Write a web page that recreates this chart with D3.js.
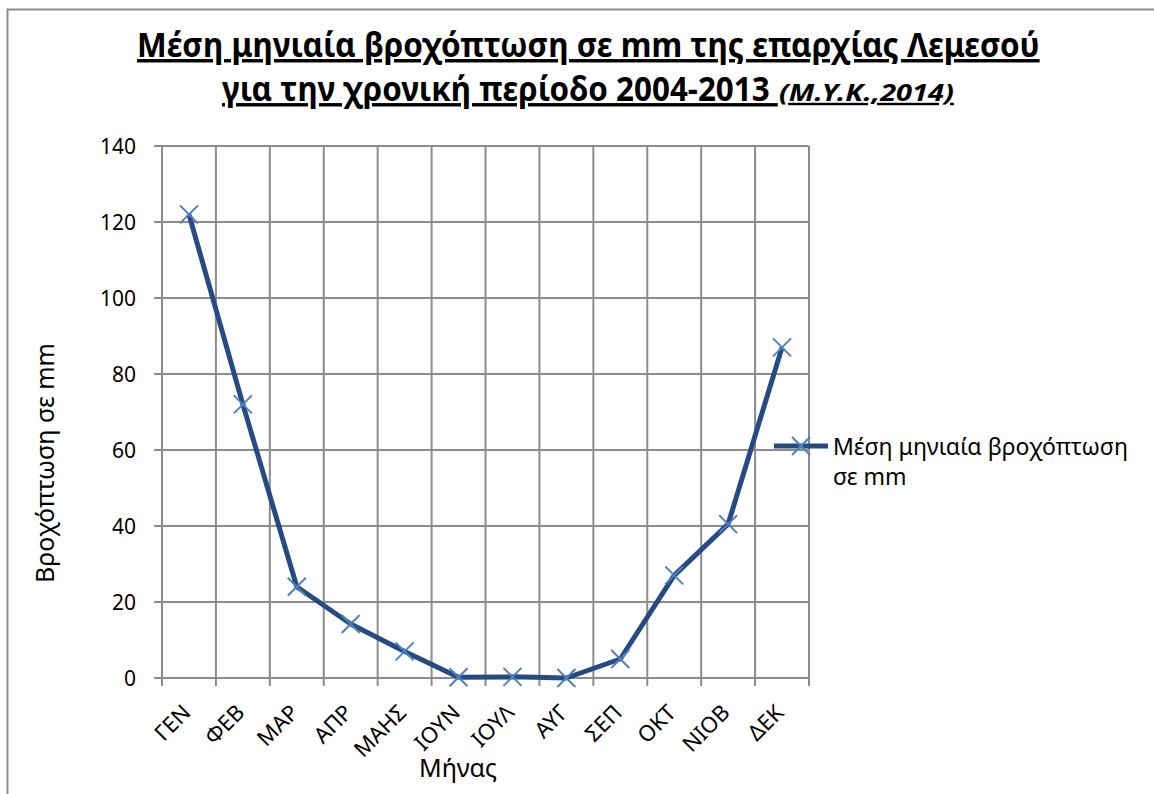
<!DOCTYPE html>
<html>
<head>
<meta charset="utf-8">
<script src="https://cdn.jsdelivr.net/npm/d3@7"></script>
<style>
  body { margin: 0; background: #fff; }
  text { font-family: "Noto Sans", "Open Sans", sans-serif; fill: #000; }
</style>
</head>
<body>
<script>
//chart data
var months = ["ΓΕΝ", "ΦΕΒ", "ΜΑΡ", "ΑΠΡ", "ΜΑΗΣ", "ΙΟΥΝ", "ΙΟΥΛ", "ΑΥΓ", "ΣΕΠ", "ΟΚΤ", "ΝΙΟΒ", "ΔΕΚ"];
var rainfall = [122, 72, 24, 14.2, 7, 0.2, 0.3, 0, 5, 27, 40.5, 87];
var yTicks = [0, 20, 40, 60, 80, 100, 120, 140];
var seriesName = ["Μέση μηνιαία βροχόπτωση", "σε mm"];
var titleLines = ["Μέση μηνιαία βροχόπτωση σε mm της επαρχίας Λεμεσού", "για την χρονική περίοδο 2004-2013\u00a0", "(Μ.Υ.Κ.,2014)"];

window.onload = function(){
    var w = 1154, h = 794;
    var left = 162, right = 809, top = 146, bottom = 678;

    var svg = d3.select("body").append("svg")
        .attr("width", w)
        .attr("height", h);

    //outer chart border (only top and left visible)
    svg.append("path")
        .attr("d", "M7.5," + (h + 5) + "V9.5H" + (w + 5))
        .style("fill", "none")
        .style("stroke", "#8c8c8c")
        .style("stroke-width", 2);

    //squeeze a title piece horizontally so it spans the given width
    function fitText(str, x, y, width, size, italic){
        var t = svg.append("text")
            .style("font-weight", "bold")
            .style("font-size", size + "px")
            .style("font-style", italic ? "italic" : "normal")
            .style("text-decoration", "underline")
            .text(str);
        var k = width / t.node().getComputedTextLength();
        t.attr("transform", "translate(" + x + "," + y + ") scale(" + k + ",1)");
        return t;
    }

    fitText(titleLines[0], 137, 57, 903, 34, false);
    fitText(titleLines[1], 222, 101, 556, 34, false);
    fitText(titleLines[2], 779, 101, 175, 24, true);

    //scales
    var x = d3.scaleBand()
        .domain(months)
        .range([left, right]);

    var y = d3.scaleLinear()
        .domain([0, 140])
        .range([bottom, top]);

    //horizontal gridlines
    svg.append("g")
        .selectAll("line")
        .data(yTicks)
        .enter()
        .append("line")
        .attr("x1", left - 8)
        .attr("x2", right)
        .attr("y1", function(d){ return y(d); })
        .attr("y2", function(d){ return y(d); })
        .style("stroke", "#8c8c8c")
        .style("stroke-width", 2);

    //vertical gridlines at category boundaries
    var bounds = months.map(function(d){ return x(d); }).concat([right]);
    svg.append("g")
        .selectAll("line")
        .data(bounds)
        .enter()
        .append("line")
        .attr("x1", function(d){ return d; })
        .attr("x2", function(d){ return d; })
        .attr("y1", top)
        .attr("y2", bottom + 8)
        .style("stroke", "#8c8c8c")
        .style("stroke-width", 2);

    //y tick labels
    svg.append("g")
        .selectAll("text")
        .data(yTicks)
        .enter()
        .append("text")
        .attr("x", 136)
        .attr("y", function(d){ return y(d) + 8; })
        .attr("text-anchor", "end")
        .style("font-size", "21px")
        .text(function(d){ return d; });

    //x tick labels, rotated
    svg.append("g")
        .selectAll("text")
        .data(months)
        .enter()
        .append("text")
        .attr("transform", function(d){
            return "translate(" + (x(d) + x.bandwidth() / 2 + 3) + "," + (bottom + 36) + ") rotate(-45)";
        })
        .attr("text-anchor", "end")
        .style("font-size", "22px")
        .text(function(d){ return d; });

    //axis titles
    svg.append("text")
        .attr("transform", "translate(54,463) rotate(-90)")
        .attr("text-anchor", "middle")
        .style("font-size", "25px")
        .text("Βροχόπτωση σε mm");

    svg.append("text")
        .attr("x", 458)
        .attr("y", 777)
        .attr("text-anchor", "middle")
        .style("font-size", "25px")
        .text("Μήνας");

    //series line
    var line = d3.line()
        .x(function(d, i){ return x(months[i]) + x.bandwidth() / 2; })
        .y(function(d){ return y(d); });

    svg.append("path")
        .datum(rainfall)
        .attr("d", line)
        .style("fill", "none")
        .style("stroke", "#254b82")
        .style("stroke-width", 5)
        .style("stroke-linejoin", "round");

    //x markers
    var s = 9;
    svg.append("g")
        .selectAll("path")
        .data(rainfall)
        .enter()
        .append("path")
        .attr("d", function(d, i){
            var cx = x(months[i]) + x.bandwidth() / 2, cy = y(d);
            return "M" + (cx - s) + "," + (cy - s) + "L" + (cx + s) + "," + (cy + s) +
                   "M" + (cx - s) + "," + (cy + s) + "L" + (cx + s) + "," + (cy - s);
        })
        .style("stroke", "#4f81bd")
        .style("stroke-width", 2);

    //legend
    var ly = 446;
    svg.append("line")
        .attr("x1", 774).attr("x2", 828)
        .attr("y1", ly).attr("y2", ly)
        .style("stroke", "#254b82")
        .style("stroke-width", 5);
    svg.append("path")
        .attr("d", "M" + (801 - s) + "," + (ly - s) + "L" + (801 + s) + "," + (ly + s) +
                   "M" + (801 - s) + "," + (ly + s) + "L" + (801 + s) + "," + (ly - s))
        .style("stroke", "#4f81bd")
        .style("stroke-width", 2);

    svg.append("g")
        .selectAll("text")
        .data(seriesName)
        .enter()
        .append("text")
        .attr("x", 833)
        .attr("y", function(d, i){ return 455 + i * 30; })
        .style("font-size", "23px")
        .text(function(d){ return d; });
};
</script>
</body>
</html>
